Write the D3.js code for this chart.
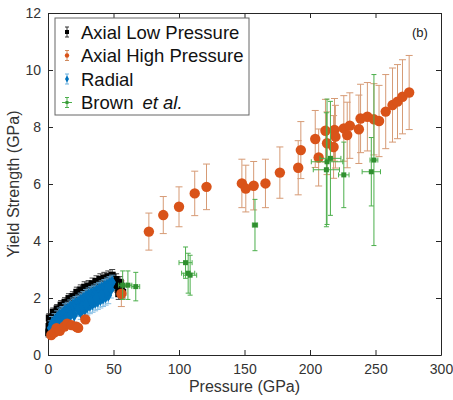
<!DOCTYPE html>
<html>
<head>
<meta charset="utf-8">
<script src="https://cdn.jsdelivr.net/npm/d3@7"></script>
<style>
  body { margin: 0; background: #fff; }
  text { font-family: "Liberation Sans", Arial, sans-serif; }
</style>
</head>
<body>
<div id="chart"></div>
<script>
// [pressure, yield, yErr]
const axialLow = [
  [0.5,0.78,0.15],[0.8,1.0,0.15],[1.2,0.9,0.15],[1.5,1.15,0.15],[2,0.85,0.15],[2.5,1.25,0.15],
  [1,1.3,0.15],[3,1.05,0.15],[4,1.3,0.15],[5,1.2,0.15],[6,1.4,0.15],[7,1.3,0.15],[8,1.5,0.16],
  [9,1.42,0.16],[10,1.55,0.16],[11,1.5,0.16],[12,1.65,0.16],[13,1.6,0.16],[14,1.72,0.17],
  [15,1.68,0.17],[16,1.8,0.17],[17,1.75,0.17],[18,1.85,0.17],[19,1.8,0.17],[20,1.92,0.18],
  [21,1.88,0.18],[22,2.0,0.18],[23,1.95,0.18],[24,2.05,0.18],[25,2.1,0.18],[26,2.05,0.18],
  [27,2.15,0.19],[28,2.2,0.19],[29,2.12,0.19],[30,2.25,0.19],[31,2.2,0.19],[32,2.3,0.19],
  [33,2.28,0.2],[34,2.35,0.2],[35,2.3,0.2],[36,2.4,0.2],[37,2.35,0.2],[38,2.45,0.2],
  [39,2.4,0.2],[40,2.5,0.2],[41,2.45,0.2],[42,2.55,0.2],[43,2.5,0.2],[44,2.6,0.2],
  [45,2.55,0.2],[46,2.62,0.2],[47,2.58,0.2],[48,2.65,0.2],[49,2.55,0.2],[50,2.62,0.2],
  [51,2.5,0.2],[52,2.45,0.2],[53,2.4,0.2],[54,2.35,0.2],[55,2.45,0.2],[56,2.3,0.2],
  [4,1.5,0.15],[7,1.62,0.15],[10,1.75,0.16],[13,1.85,0.16],[16,1.98,0.17],[19,2.05,0.17],
  [22,2.2,0.18],[25,2.28,0.18],[28,2.38,0.19],[31,2.42,0.19],[34,2.5,0.2],[37,2.58,0.2],
  [40,2.65,0.2],[43,2.7,0.2],[46,2.75,0.2],[49,2.8,0.2],[52,2.65,0.2],[55,2.55,0.2],
  [57,2.2,0.2],[54,2.15,0.2]
];

const axialHigh = [
  [2.5,0.7,0.12],[5,0.8,0.12],[6.5,0.94,0.12],[9,0.85,0.12],[12.5,1.0,0.12],[14.6,1.1,0.12],
  [18,1.05,0.12],[21.7,0.99,0.12],[23,0.95,0.12],[28.5,1.25,0.15],[56,2.15,0.45],
  [77,4.33,0.65],[88,4.91,0.65],[100,5.2,0.7],[112,5.67,0.78],[121,5.9,0.8],
  [148,6.02,0.85],[151,5.84,0.82],[157,5.94,0.85],[166,6.02,0.85],[177,6.4,0.9],
  [191,6.57,0.95],[193,7.19,1.0],[204,7.58,1.0],[206.6,6.93,1.0],[211.8,7.87,1.1],
  [213,7.43,1.1],[218.7,7.9,1.1],[219.4,7.66,1.1],[218,7.3,1.1],[225.8,7.95,1.15],
  [230.4,8.05,1.15],[228.4,7.72,1.15],[237.3,7.92,1.2],[238.6,8.3,1.2],[243.8,8.36,1.2],
  [248.8,8.27,1.25],[252.7,8.21,1.25],[257.8,8.54,1.3],[263,8.77,1.3],[266.8,8.89,1.3],
  [270.6,9.06,1.3],[275.7,9.21,1.3]
];

const radial = [
  [2,0.95,0.25],[3,1.1,0.25],[4,0.9,0.25],[5,1.2,0.25],[6,1.1,0.25],[7,1.3,0.25],[8,1.2,0.25],
  [9,1.4,0.25],[10,1.35,0.25],[11,1.45,0.25],[12,1.4,0.25],[13,1.55,0.25],[14,1.5,0.25],
  [15,1.6,0.25],[16,1.55,0.25],[17,1.68,0.25],[18,1.62,0.25],[19,1.75,0.25],[20,1.7,0.25],
  [21,1.8,0.25],[22,1.75,0.25],[23,1.85,0.25],[24,1.8,0.25],[25,1.92,0.25],[26,1.88,0.25],
  [27,1.98,0.25],[28,1.95,0.25],[29,2.05,0.25],[30,2.0,0.25],[31,2.1,0.25],[32,2.05,0.25],
  [33,2.15,0.25],[34,2.1,0.25],[35,2.2,0.25],[36,2.15,0.25],[37,2.25,0.25],[38,2.2,0.25],
  [39,2.3,0.25],[40,2.28,0.25],[41,2.35,0.25],[42,2.3,0.25],[43,2.4,0.25],[44,2.38,0.25],
  [45,2.45,0.25],[46,2.42,0.25],[47,2.5,0.25],[48,2.48,0.25],[49,2.55,0.25],
  [15,1.25,0.25],[20,1.4,0.25],[25,1.5,0.25],[28,1.6,0.3],[30,1.7,0.3],[32,1.75,0.3],
  [34,1.8,0.3],[36,1.85,0.3],[38,1.9,0.3],[40,1.95,0.3],[42,2.0,0.3],[44,2.05,0.3],[46,2.1,0.3],
  [5,0.95,0.25],[8,1.05,0.25],[11,1.2,0.25],[14,1.3,0.25],[17,1.4,0.25],[23,1.6,0.25],
  [26,1.7,0.25],[29,1.78,0.3],[33,1.9,0.3],[37,2.0,0.3],[41,2.12,0.3],[45,2.25,0.3],[48,2.3,0.3]
];

// [pressure, yield, yErr, xErr]
const brown = [
  [57,2.45,0.5,3],[61,2.45,0.5,3],[67,2.4,0.5,3],
  [105,3.24,0.55,5],[107,2.87,0.7,5],[108.5,2.8,0.7,5],
  [158,4.56,0.9,2],
  [212.5,6.5,2.0,10],[213,6.78,2.2,12],[215.6,6.9,2.0,8],[225.8,6.32,1.15,4],
  [246.8,6.43,1.2,7],[248.8,6.84,3.0,3]
];

const xTicks = [0, 50, 100, 150, 200, 250, 300];
const yTicks = [0, 2, 4, 6, 8, 10, 12];

const width = 453, height = 400;
const margin = {top: 13, right: 12, bottom: 45, left: 48};

const svg = d3.select("#chart").append("svg")
  .attr("width", width)
  .attr("height", height);

const x = d3.scaleLinear().domain([0, 300]).range([margin.left, width - margin.right]);
const y = d3.scaleLinear().domain([0, 12]).range([height - margin.bottom, margin.top]);

const axisColor = "#262626";

// axes (ticks inward, box on)
const gx = svg.append("g")
  .attr("transform", `translate(0,${y(0)})`)
  .call(d3.axisBottom(x).tickValues(xTicks).tickSizeInner(-5).tickSizeOuter(0).tickPadding(9));
const gxTop = svg.append("g")
  .attr("transform", `translate(0,${y(12)})`)
  .call(d3.axisTop(x).tickValues(xTicks).tickSizeInner(-5).tickSizeOuter(0).tickFormat(""));
const gy = svg.append("g")
  .attr("transform", `translate(${x(0)},0)`)
  .call(d3.axisLeft(y).tickValues(yTicks).tickSizeInner(-5).tickSizeOuter(0).tickPadding(7));
const gyRight = svg.append("g")
  .attr("transform", `translate(${x(300)},0)`)
  .call(d3.axisRight(y).tickValues(yTicks).tickSizeInner(-5).tickSizeOuter(0).tickFormat(""));

[gx, gxTop, gy, gyRight].forEach(g => {
  g.select(".domain").attr("stroke", axisColor);
  g.selectAll(".tick line").attr("stroke", axisColor);
  g.selectAll(".tick text").attr("fill", "#333").style("font-size", "14px");
});

svg.append("text")
  .attr("x", (x(0) + x(300)) / 2)
  .attr("y", 392)
  .attr("text-anchor", "middle")
  .attr("fill", "#333")
  .style("font-size", "16px")
  .text("Pressure (GPa)");

svg.append("text")
  .attr("transform", `translate(19,${(y(0) + y(12)) / 2}) rotate(-90)`)
  .attr("text-anchor", "middle")
  .attr("fill", "#333")
  .style("font-size", "16px")
  .text("Yield Strength (GPa)");

svg.append("text")
  .attr("x", 412).attr("y", 37)
  .attr("fill", "#222")
  .style("font-size", "13px")
  .text("(b)");

const plot = svg.append("g");

function errorBars(data, color, cap, opacity) {
  const g = plot.append("g").attr("stroke", color).attr("stroke-width", 1).attr("opacity", opacity);
  data.forEach(d => {
    g.append("line").attr("x1", x(d[0])).attr("x2", x(d[0])).attr("y1", y(d[1] - d[2])).attr("y2", y(d[1] + d[2]));
    [d[1] - d[2], d[1] + d[2]].forEach(v => {
      g.append("line").attr("x1", x(d[0]) - cap).attr("x2", x(d[0]) + cap).attr("y1", y(v)).attr("y2", y(v));
    });
    if (d[3]) {
      g.append("line").attr("x1", x(d[0] - d[3])).attr("x2", x(d[0] + d[3])).attr("y1", y(d[1])).attr("y2", y(d[1]));
      [d[0] - d[3], d[0] + d[3]].forEach(v => {
        g.append("line").attr("x1", x(v)).attr("x2", x(v)).attr("y1", y(d[1]) - cap).attr("y2", y(d[1]) + cap);
      });
    }
  });
}

const orange = "#D95319", blue = "#0072BD", green = "#3a9a3a";

// error bars of the high pressure series sit behind everything
errorBars(axialHigh, "#d08a5e", 3.5, 0.85);

// Axial low pressure
errorBars(axialLow, "#333", 3, 0.9);
plot.append("g").selectAll("rect").data(axialLow).join("rect")
  .attr("x", d => x(d[0]) - 3.5).attr("y", d => y(d[1]) - 3.5)
  .attr("width", 7).attr("height", 7)
  .attr("fill", "#000");

// Radial
errorBars(radial, "#6fb3e0", 3, 0.85);
plot.append("g").selectAll("path").data(radial).join("path")
  .attr("transform", d => `translate(${x(d[0])},${y(d[1])})`)
  .attr("d", d3.symbol(d3.symbolDiamond, 50))
  .attr("fill", blue);

// Axial high pressure markers
plot.append("g").selectAll("circle").data(axialHigh).join("circle")
  .attr("cx", d => x(d[0])).attr("cy", d => y(d[1])).attr("r", 5.2)
  .attr("fill", orange);

// Brown et al.
errorBars(brown, "#4caf4c", 2.5, 1);
plot.append("g").selectAll("rect").data(brown).join("rect")
  .attr("x", d => x(d[0]) - 2.5).attr("y", d => y(d[1]) - 2.5)
  .attr("width", 5).attr("height", 5)
  .attr("fill", "#2f8f2f");

// legend
const legend = svg.append("g");
legend.append("rect")
  .attr("x", 55).attr("y", 18).attr("width", 194).attr("height", 97)
  .attr("fill", "#fff").attr("stroke", "#666").attr("stroke-width", 1);

const legendItems = [
  {label: "Axial Low Pressure", color: "#000", err: "#333", shape: "square"},
  {label: "Axial High Pressure", color: orange, err: "#d08a5e", shape: "circle"},
  {label: "Radial", color: blue, err: "#6fb3e0", shape: "diamond"},
  {label: "Brown", italic: "et al.", color: green, err: "#4caf4c", shape: "cross"}
];

legendItems.forEach((it, i) => {
  const cy = 32 + i * 23.5;
  const lx = 67;
  const g = legend.append("g");
  g.append("line").attr("x1", lx).attr("x2", lx).attr("y1", cy - 5).attr("y2", cy + 5).attr("stroke", it.err);
  g.append("line").attr("x1", lx - 2).attr("x2", lx + 2).attr("y1", cy - 5).attr("y2", cy - 5).attr("stroke", it.err);
  g.append("line").attr("x1", lx - 2).attr("x2", lx + 2).attr("y1", cy + 5).attr("y2", cy + 5).attr("stroke", it.err);
  if (it.shape === "cross") {
    g.append("line").attr("x1", lx - 5).attr("x2", lx + 5).attr("y1", cy).attr("y2", cy).attr("stroke", it.err);
  }
  if (it.shape === "square") {
    g.append("rect").attr("x", lx - 2).attr("y", cy - 2).attr("width", 4).attr("height", 4).attr("fill", it.color);
  } else if (it.shape === "circle") {
    g.append("circle").attr("cx", lx).attr("cy", cy).attr("r", 2.2).attr("fill", it.color);
  } else if (it.shape === "diamond") {
    g.append("path").attr("transform", `translate(${lx},${cy})`).attr("d", d3.symbol(d3.symbolDiamond, 14)).attr("fill", it.color);
  } else {
    g.append("rect").attr("x", lx - 1.5).attr("y", cy - 1.5).attr("width", 3).attr("height", 3).attr("fill", it.color);
  }
  const t = g.append("text").attr("x", 81).attr("y", cy + 6.5).attr("fill", "#111").style("font-size", "18.5px");
  t.append("tspan").text(it.label);
  if (it.italic) {
    t.append("tspan").attr("dx", 9).style("font-style", "italic").text(it.italic);
  }
});
</script>
</body>
</html>
